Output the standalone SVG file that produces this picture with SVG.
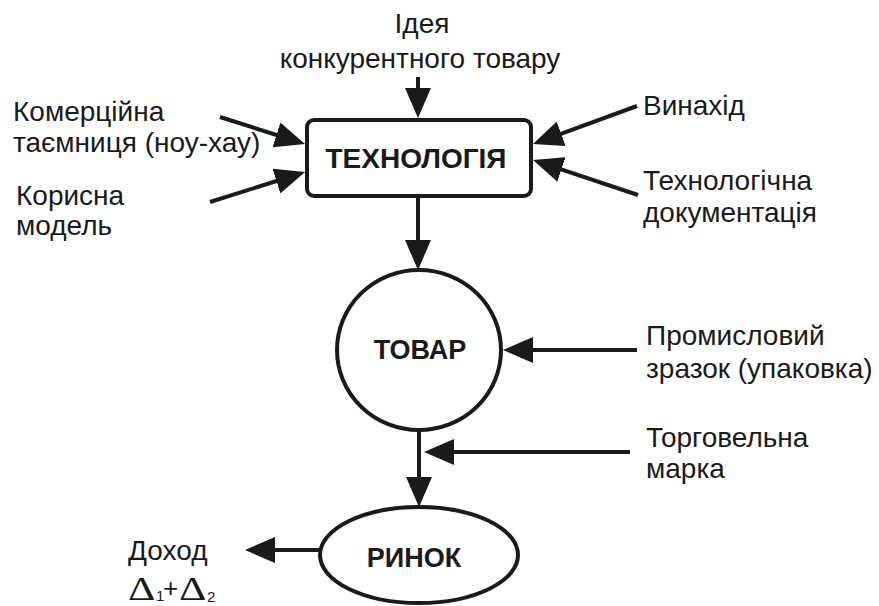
<svg xmlns="http://www.w3.org/2000/svg" width="879" height="606" viewBox="0 0 879 606">
<style>
.lbl{font-family:"Liberation Sans",Arial,sans-serif;font-size:28px;fill:#1a1a1a}
.ttl{font-family:"Liberation Sans",Arial,sans-serif;font-size:27px;font-weight:bold;fill:#1a1a1a;text-anchor:middle}
.dl{font-family:"Liberation Serif","Times New Roman",serif;font-size:34px;fill:#1a1a1a}
.sub{font-family:"Liberation Sans",Arial,sans-serif;font-size:15px;fill:#1a1a1a}
.shape{fill:#fff;stroke:#1a1a1a;stroke-width:4}
.conn{fill:none;stroke:#1a1a1a;stroke-width:4;marker-end:url(#ah)}
</style>
<defs>
<marker id="ah" markerUnits="userSpaceOnUse" markerWidth="30" markerHeight="26" refX="20" refY="13" orient="auto" viewBox="0 0 30 26">
<path d="M0,0 L30,13 L0,26 Z" fill="#1a1a1a"/>
</marker>
</defs>
<rect width="879" height="606" fill="#fff"/>
<g id="connectors">
<line class="conn" x1="418" y1="77" x2="418" y2="108"/>
<line class="conn" x1="220" y1="117" x2="295.5" y2="141"/>
<line class="conn" x1="210" y1="202" x2="295.5" y2="175"/>
<line class="conn" x1="637" y1="106" x2="542.4" y2="140.6"/>
<line class="conn" x1="638" y1="195" x2="542.5" y2="163.2"/>
<line class="conn" x1="418" y1="198" x2="418" y2="260"/>
<line class="conn" x1="637" y1="350" x2="513" y2="350"/>
<line class="conn" x1="630" y1="452" x2="434" y2="452"/>
<line class="conn" x1="419" y1="430" x2="419" y2="497"/>
<line class="conn" x1="320" y1="550" x2="255" y2="550"/>
</g>
<g id="tech">
<rect class="shape" x="307" y="120" width="224" height="76" rx="7"/>
<text class="ttl" x="416" y="168" style="font-size:28px">ТЕХНОЛОГІЯ</text>
</g>
<g id="tovar">
<ellipse class="shape" cx="419" cy="350" rx="82" ry="80"/>
<text class="ttl" x="420" y="359">ТОВАР</text>
</g>
<g id="rynok">
<ellipse class="shape" cx="419" cy="555" rx="99" ry="48"/>
<text class="ttl" x="414" y="567">РИНОК</text>
</g>
<g id="idea">
<text class="lbl" x="422" y="33" text-anchor="middle">Ідея</text>
<text class="lbl" x="420" y="68" text-anchor="middle">конкурентного товару</text>
</g>
<g id="secret">
<text class="lbl" x="13" y="121">Комерційна</text>
<text class="lbl" x="13" y="152">таємниця (ноу-хау)</text>
</g>
<g id="model">
<text class="lbl" x="16" y="205">Корисна</text>
<text class="lbl" x="16" y="235">модель</text>
</g>
<g id="invention">
<text class="lbl" x="643" y="115">Винахід</text>
</g>
<g id="docs">
<text class="lbl" x="643" y="190">Технологічна</text>
<text class="lbl" x="643" y="222">документація</text>
</g>
<g id="design">
<text class="lbl" x="646" y="345">Промисловий</text>
<text class="lbl" x="646" y="378">зразок (упаковка)</text>
</g>
<g id="trademark">
<text class="lbl" x="646" y="447">Торговельна</text>
<text class="lbl" x="646" y="478">марка</text>
</g>
<g id="income">
<text class="lbl" x="128" y="560">Доход</text>
<text class="dl" transform="translate(128 600) scale(1.25 1)">Δ</text>
<text class="sub" x="156" y="601">1</text>
<text class="lbl" x="163" y="597" style="font-size:26px">+</text>
<text class="dl" transform="translate(179 600) scale(1.25 1)">Δ</text>
<text class="sub" x="207" y="602">2</text>
</g>
</svg>
